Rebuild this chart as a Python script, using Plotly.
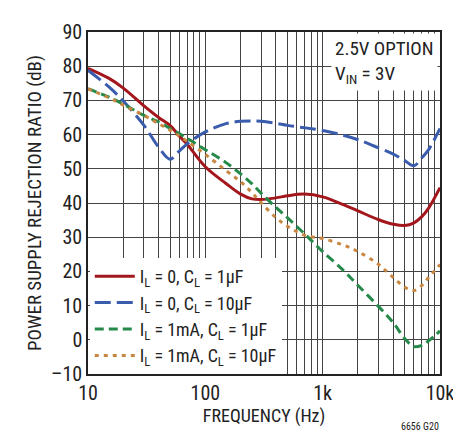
import plotly.graph_objects as go

freq = [10, 15, 20, 30, 40, 50, 60, 70, 100, 150, 200, 250, 300, 400, 500, 700, 1000, 1500, 2000, 3000, 4000, 5000, 6000, 7000, 8000, 10000]

red = [79.4, 76.5, 73.6, 68.4, 65.0, 62.7, 59.6, 57.2, 50.6, 45.7, 42.6, 41.2, 41.0, 41.5, 42.1, 42.6, 41.8, 39.5, 37.7, 35.1, 33.8, 33.4, 34.2, 36.0, 38.5, 44.5]
blue = [78.8, 74.0, 69.8, 62.7, 56.3, 52.8, 55.2, 57.3, 60.8, 63.2, 63.9, 64.0, 63.9, 63.3, 62.7, 62.0, 61.2, 59.8, 58.5, 56.1, 54.3, 52.4, 50.9, 53.2, 55.6, 61.8]
green = [73.4, 71.0, 68.9, 65.6, 63.7, 61.8, 60.3, 58.9, 55.6, 51.8, 48.5, 45.6, 42.8, 38.7, 35.7, 31.0, 25.8, 20.3, 15.9, 9.7, 5.0, 0.4, -2.0, -1.6, -0.3, 2.6]
orange = [73.4, 70.8, 68.6, 65.6, 63.2, 61.3, 59.6, 58.0, 54.2, 49.5, 46.2, 43.0, 40.0, 35.7, 33.2, 30.6, 29.6, 27.7, 25.8, 22.0, 18.2, 15.4, 14.4, 15.9, 18.2, 22.0]

series_names = [
    "I<sub>L</sub> = 0, C<sub>L</sub> = 1µF",
    "I<sub>L</sub> = 0, C<sub>L</sub> = 10µF",
    "I<sub>L</sub> = 1mA, C<sub>L</sub> = 1µF",
    "I<sub>L</sub> = 1mA, C<sub>L</sub> = 10µF",
]

x_tickvals = [m * d for d in (10, 100, 1000) for m in range(1, 10)] + [10000]
x_ticktext = ["10" if v == 10 else "100" if v == 100 else "1k" if v == 1000 else "10k" if v == 10000 else "" for v in x_tickvals]
y_tickvals = list(range(-10, 91, 10))
y_ticktext = ["\u201310" if v == -10 else str(v) for v in y_tickvals]

FONT = "Liberation Sans Narrow, Arial Narrow, Roboto Condensed, Liberation Sans, sans-serif"

fig = go.Figure()
styles = [
    dict(color="#a3161c", width=3, dash="solid"),
    dict(color="#3a5cad", width=3, dash="16px,6px"),
    dict(color="#25894a", width=3, dash="9px,5px"),
    dict(color="#c98640", width=3, dash="4px,5px"),
]
for name, ys, st in zip(series_names, [red, blue, green, orange], styles):
    fig.add_trace(go.Scatter(x=freq, y=ys, mode="lines", name=name,
                             line=dict(shape="spline", smoothing=1.0, **st)))

fig.update_layout(
    width=461, height=432,
    margin=dict(l=80, r=29, t=14, b=66),
    paper_bgcolor="white", plot_bgcolor="white",
    font=dict(family=FONT, size=15, color="#222"),
    showlegend=True,
    legend=dict(x=0.005, y=0.0, xanchor="left", yanchor="bottom",
                bgcolor="white", borderwidth=0, font=dict(size=18, family=FONT),
                tracegroupgap=0, itemwidth=40),
    xaxis=dict(type="log", range=[1, 4], tickmode="array", tickvals=x_tickvals, ticktext=x_ticktext,
               showgrid=True, gridcolor="#444", gridwidth=1, showline=True, linecolor="#222", linewidth=1.5,
               mirror=True, ticks="", tickfont=dict(size=20, family=FONT),
               title=dict(text="FREQUENCY (Hz)", font=dict(size=18, family=FONT), standoff=6), zeroline=False),
    yaxis=dict(range=[-10, 90], tickmode="array", tickvals=y_tickvals, ticktext=y_ticktext,
               showgrid=True, gridcolor="#444", gridwidth=1, showline=True, linecolor="#222", linewidth=1.5,
               mirror=True, ticks="", tickfont=dict(size=20, family=FONT),
               title=dict(text="POWER SUPPLY REJECTION RATIO (dB)", font=dict(size=19, family=FONT), standoff=4),
               zeroline=False),
)

fig.add_annotation(xref="paper", yref="paper", x=0.993, y=0.997, xanchor="right", yanchor="top",
                   text="2.5V OPTION<br>V<sub>IN</sub> = 3V", showarrow=False, align="left",
                   bgcolor="white", font=dict(size=19, family=FONT), borderpad=3)
fig.add_annotation(xref="paper", yref="paper", x=1.0, y=-0.172, xanchor="right", yanchor="bottom",
                   text="6656 G20", showarrow=False, font=dict(size=10, family=FONT), borderpad=0)

fig.write_html("out.html")
